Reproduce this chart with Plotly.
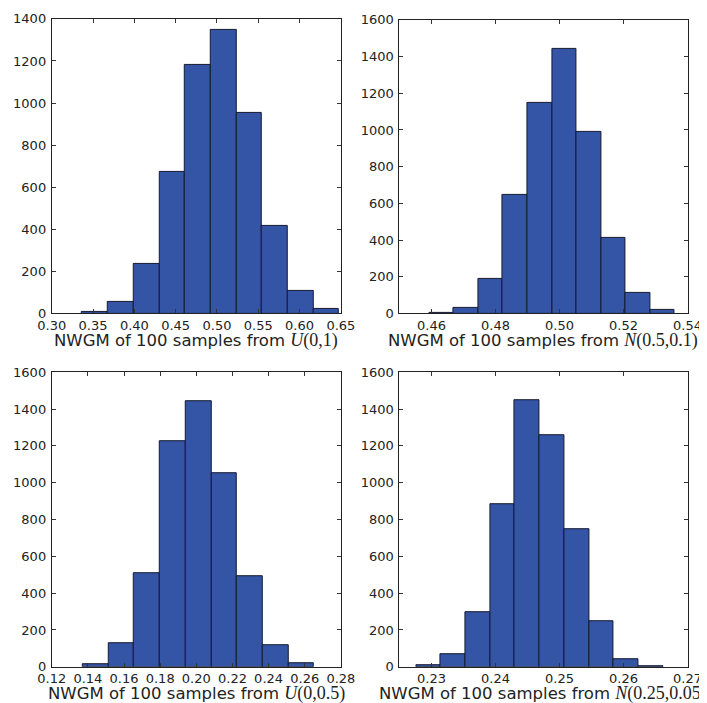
import plotly.graph_objects as go

# ---- data ----
edges_u01 = [0.3368, 0.3679, 0.3990, 0.4302, 0.4613, 0.4924, 0.5235, 0.5546, 0.5858, 0.6169, 0.6480]
counts_u01 = [8, 54, 237, 671, 1181, 1347, 953, 414, 107, 20]

edges_n501 = [0.4593, 0.4670, 0.4746, 0.4823, 0.4900, 0.4977, 0.5053, 0.5130, 0.5207, 0.5283, 0.5360]
counts_n501 = [5, 32, 190, 648, 1149, 1442, 990, 414, 110, 20]

edges_u005 = [0.1372, 0.1514, 0.1656, 0.1799, 0.1941, 0.2083, 0.2225, 0.2367, 0.2510, 0.2652]
counts_u005 = [15, 128, 507, 1223, 1444, 1052, 490, 117, 20]

edges_n2505 = [0.2276, 0.2314, 0.2353, 0.2392, 0.2430, 0.2469, 0.2507, 0.2546, 0.2585, 0.2623, 0.2662]
counts_n2505 = [7, 69, 298, 883, 1447, 1257, 745, 248, 41, 5]

xticks_u01 = [0.30, 0.35, 0.40, 0.45, 0.50, 0.55, 0.60, 0.65]
xticks_n501 = [0.46, 0.48, 0.50, 0.52, 0.54]
xticks_u005 = [0.12, 0.14, 0.16, 0.18, 0.20, 0.22, 0.24, 0.26, 0.28]
xticks_n2505 = [0.23, 0.24, 0.25, 0.26, 0.27]

labels = ["<i>U</i>(0,1)", "<i>N</i>(0.5,0.1)", "<i>U</i>(0,0.5)", "<i>N</i>(0.25,0.05)"]

W, H = 707, 703
# plot areas in pixels: (x0, x1, ytop, ybottom)
boxes = [(31, 332, 4, 305), (393, 693, 5, 305), (31, 332, 365, 666), (393, 693, 365, 666)]
xranges = [[0.30, 0.65], [0.45, 0.54], [0.12, 0.28], [0.225, 0.27]]
yranges = [[0, 1400], [0, 1600], [0, 1600], [0, 1600]]
title_y = [333, 333, 693, 693]

panels = [
    (edges_u01, counts_u01, xticks_u01),
    (edges_n501, counts_n501, xticks_n501),
    (edges_u005, counts_u005, xticks_u005),
    (edges_n2505, counts_n2505, xticks_n2505),
]

fig = go.Figure()
layout = dict(width=W, height=H, autosize=False,
              margin=dict(l=0, r=0, t=0, b=0),
              paper_bgcolor="white", plot_bgcolor="white",
              showlegend=False, bargap=0, annotations=[])

tickfont = dict(family="DejaVu Sans", size=13, color="#222222")

for i, (edges, counts, xt) in enumerate(panels):
    n = i + 1
    xa = "x" if n == 1 else f"x{n}"
    ya = "y" if n == 1 else f"y{n}"
    nb = len(counts)
    centers = [(edges[k] + edges[k + 1]) / 2 for k in range(nb)]
    widths = [edges[k + 1] - edges[k] for k in range(nb)]
    fig.add_trace(go.Bar(x=centers, y=counts, width=widths, xaxis=xa, yaxis=ya,
                         marker=dict(color="#3454a6", line=dict(color="#151a30", width=1))))
    x0, x1, yt, yb = boxes[i]
    xkey = "xaxis" if n == 1 else f"xaxis{n}"
    ykey = "yaxis" if n == 1 else f"yaxis{n}"
    layout[xkey] = dict(domain=[x0 / W, x1 / W], range=xranges[i], anchor=ya,
                        tickvals=xt, ticktext=[f"{v:.2f}" for v in xt],
                        ticks="inside", ticklen=4, tickcolor="#333333",
                        showline=True, mirror="allticks", linecolor="#222222", linewidth=1,
                        showgrid=False, zeroline=False, tickfont=tickfont,
                        ticklabelstandoff=0)
    yr = yranges[i]
    yt_vals = list(range(yr[0], yr[1] + 1, 200))
    layout[ykey] = dict(domain=[1 - yb / H, 1 - yt / H], range=yr, anchor=xa,
                        tickvals=yt_vals,
                        ticks="inside", ticklen=4, tickcolor="#333333",
                        showline=True, mirror="allticks", linecolor="#222222", linewidth=1,
                        showgrid=False, zeroline=False, tickfont=tickfont,
                        ticklabelstandoff=2)
    layout["annotations"].append(dict(
        x=(x0 + x1) / 2 / W, y=1 - title_y[i] / H, xref="paper", yref="paper",
        xanchor="center", yanchor="middle", showarrow=False,
        text="NWGM of 100 samples from <span style='font-family:Liberation Serif;font-size:18px'>"
             + labels[i] + "</span>",
        font=dict(family="DejaVu Sans", size=16.5, color="#222222")))

fig.update_layout(**layout)
fig.write_html("out.html")
